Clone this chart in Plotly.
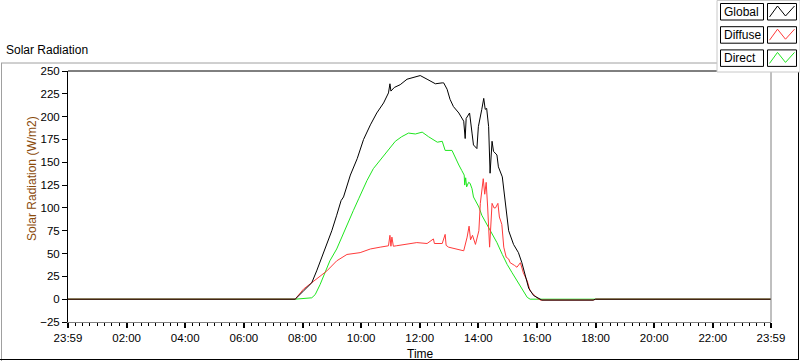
import plotly.graph_objects as go

# ---------------- data ----------------
global_times = ["00:00","07:40","07:45","08:02","08:19","08:29","08:40","08:50","09:00","09:10",
    "09:19","09:24","09:38","09:52","10:05","10:19","10:32","10:46","10:56","10:59",
    "11:01","11:08","11:20","11:34","11:47","12:01","12:15","12:22","12:32","12:46",
    "12:49","12:56","13:02","13:09","13:20","13:30","13:32","13:33","13:35","13:40",
    "13:42","13:47","13:50","13:57","14:00","14:07","14:11","14:14","14:17","14:21",
    "14:24","14:28","14:31","14:38","14:41","14:49","14:52","14:55","15:02","15:12",
    "15:22","15:29","15:36","15:43","15:53","16:06","16:10","17:55","18:00","23:59"]
global_vals = [0,0,0,9,18,31,47,62,75,92,
    108,112,136,154,175,191,204,215,226,236,
    228,232,235,241,243,245,241,239,236,237,
    237,230,219,211,204,195,185,176,198,202,
    204,182,169,165,189,208,220,208,209,189,
    138,173,162,158,145,134,119,105,75,60,
    51,40,25,12,4,0,-1,-1,0,0]

diffuse_times = ["00:00","07:45","08:02","08:23","08:50","09:10","09:31","09:58","10:19","10:39",
    "10:56","10:59","11:01","11:03","11:06","11:12","11:34","11:54","12:15","12:28",
    "12:30","12:46","12:52","12:54","12:59","13:16","13:30","13:37","13:41","13:44",
    "13:48","13:54","14:01","14:04","14:10","14:13","14:16","14:19","14:23","14:28",
    "14:32","14:35","14:40","14:43","14:48","14:52","14:57","15:02","15:05","15:14",
    "15:19","15:26","15:32","15:40","15:46","16:00","16:07","17:55","18:00","23:59"]
diffuse_vals = [0,0,11,20,31,42,49,51,55,57,
    58.5,70,58,68,58,58.5,60,62,61,66,
    61,61,71,59,57,55,53,68,80,65,
    70,60,75,105,132,115,128,101,57,105,
    100,100,105,90,82,57,46,44,40,37,
    35,40,29,20,9,1.5,-1,-1,0,0]

direct_times = ["00:00","07:45","08:19","08:26","08:36","08:46","08:56","09:10","09:20","09:31",
    "09:44","09:55","10:12","10:25","10:39","10:56","11:10","11:23","11:37","11:51",
    "12:05","12:18","12:36","12:46","12:52","13:06","13:13","13:20","13:26","13:31",
    "13:32","13:34","13:36","13:40","13:43","13:47","13:50","14:01","14:07","14:17",
    "14:28","14:38","14:49","14:59","15:09","15:19","15:29","15:40","15:46","23:59"]
direct_vals = [0,0,1.5,5,16,29,42,55,68,82,
    97,110,130,143,152,163,173,178,182,181,
    183,178,172,173,163,163,154,147,141,136,
    125,133,123,128,127,121,112,101,92,82,
    71,62,49,38,29,20,11,2,0,0]

tick_hours = [0, 2, 4, 6, 8, 10, 12, 14, 16, 18, 20, 22, 23 + 59/60]
tick_labels = ["23:59","02:00","04:00","06:00","08:00","10:00","12:00",
               "14:00","16:00","18:00","20:00","22:00","23:59"]
y_ticks = [-25, 0, 25, 50, 75, 100, 125, 150, 175, 200, 225, 250]
series_names = ["Global", "Diffuse", "Direct"]
series_colors = ["#000000", "#ff3a3a", "#1ee61e"]


def to_hours(ts):
    out = []
    for t in ts:
        h, m = t.split(":")
        out.append(int(h) + int(m) / 60)
    return out


# ---------------- layout geometry ----------------
W, H = 800, 361
L, R, T, B = 68, 771, 71, 322


def px(x):
    return (x - L) / (R - L)


def py(y):
    return (B - y) / (B - T)


fig = go.Figure()
fig.add_trace(go.Scatter(x=to_hours(direct_times), y=direct_vals, mode="lines",
                         line=dict(color=series_colors[2], width=1), name="Direct"))
fig.add_trace(go.Scatter(x=to_hours(diffuse_times), y=diffuse_vals, mode="lines",
                         line=dict(color=series_colors[1], width=1), name="Diffuse"))
fig.add_trace(go.Scatter(x=to_hours(global_times), y=global_vals, mode="lines",
                         line=dict(color=series_colors[0], width=1), name="Global"))

font_family = "Liberation Sans"

fig.update_layout(
    width=W, height=H,
    margin=dict(l=L, r=W - R, t=T, b=H - B, pad=0),
    paper_bgcolor="white", plot_bgcolor="white",
    showlegend=False,
    font=dict(family=font_family, size=11, color="black"),
    xaxis=dict(range=[0, 23 + 59/60], tickmode="array", tickvals=tick_hours, ticktext=tick_labels,
               ticks="outside", ticklen=5, tickwidth=2, tickcolor="black",
               showgrid=False, zeroline=False, showline=True, linecolor="#808080", linewidth=1,
               minor=dict(dtick=0.25, tick0=0, ticks="outside", ticklen=3, tickwidth=1,
                          tickcolor="black", showgrid=False),
               tickfont=dict(size=11.5)),
    yaxis=dict(range=[-25, 250], tickmode="array", tickvals=y_ticks,
               ticks="outside", ticklen=5, tickwidth=1, tickcolor="black",
               showgrid=False, zeroline=False, showline=True, linecolor="black", linewidth=1,
               tickfont=dict(size=11.5)),
)

shapes = []
# plot area top (black) and right (grey) borders
shapes.append(dict(type="line", xref="paper", yref="paper", x0=0, x1=1, y0=1, y1=1,
                   line=dict(color="black", width=1)))
shapes.append(dict(type="line", xref="paper", yref="paper", x0=1, x1=1, y0=0, y1=1,
                   line=dict(color="#808080", width=1)))
# outer frame
shapes.append(dict(type="line", xref="paper", yref="paper", x0=px(1), x1=px(717), y0=py(63), y1=py(63),
                   line=dict(color="#a0a0a0", width=1)))
shapes.append(dict(type="line", xref="paper", yref="paper", x0=px(1.5), x1=px(1.5), y0=py(63), y1=py(361),
                   line=dict(color="#a0a0a0", width=1)))
shapes.append(dict(type="line", xref="paper", yref="paper", x0=px(0), x1=px(798.5), y0=py(359.5), y1=py(359.5),
                   line=dict(color="black", width=1)))
shapes.append(dict(type="line", xref="paper", yref="paper", x0=px(798.5), x1=px(798.5), y0=py(72), y1=py(360),
                   line=dict(color="black", width=1)))
# legend panel
shapes.append(dict(type="rect", xref="paper", yref="paper", x0=px(717), x1=px(800), y0=py(72), y1=py(0.5),
                   line=dict(color="#c8c8c8", width=1), fillcolor="white"))

annotations = []
for i, (name, col) in enumerate(zip(series_names, series_colors)):
    y0 = 3.5 + i * 23.2
    y1 = y0 + 16.5
    shapes.append(dict(type="rect", xref="paper", yref="paper", x0=px(720.5), x1=px(763.5),
                       y0=py(y1), y1=py(y0), line=dict(color="black", width=1), fillcolor="white"))
    shapes.append(dict(type="rect", xref="paper", yref="paper", x0=px(767.5), x1=px(796.5),
                       y0=py(y1), y1=py(y0), line=dict(color="black", width=1), fillcolor="white"))
    pts = [(769.5, y0 + 13.5), (777.5, y0 + 2.5), (785.5, y0 + 12.5), (794.5, y0 + 2.5)]
    path = "M " + " L ".join(f"{px(a):.5f},{py(b):.5f}" for a, b in pts)
    shapes.append(dict(type="path", xref="paper", yref="paper", path=path,
                       line=dict(color=col, width=1)))
    annotations.append(dict(text=name, xref="paper", yref="paper", x=px(722), y=py((y0 + y1) / 2),
                            xanchor="left", yanchor="middle", showarrow=False,
                            font=dict(family=font_family, size=12, color="black")))

annotations.append(dict(text="Solar Radiation", xref="paper", yref="paper", x=px(4), y=py(50),
                        xanchor="left", yanchor="middle", showarrow=False,
                        font=dict(family=font_family, size=12, color="black")))
annotations.append(dict(text="Solar Radiation (W/m2)", xref="paper", yref="paper", x=px(32), y=py(179),
                        xanchor="center", yanchor="middle", textangle=-90, showarrow=False,
                        font=dict(family=font_family, size=12, color="#8a4a0a")))
annotations.append(dict(text="Time", xref="paper", yref="paper", x=px(420), y=py(354),
                        xanchor="center", yanchor="middle", showarrow=False,
                        font=dict(family=font_family, size=12, color="black")))

fig.update_layout(shapes=shapes, annotations=annotations)
fig.write_html("out.html", config={"displayModeBar": False},
               post_script="document.body.style.margin='0';document.body.style.padding='0';"
                           "document.body.style.overflow='hidden';")
